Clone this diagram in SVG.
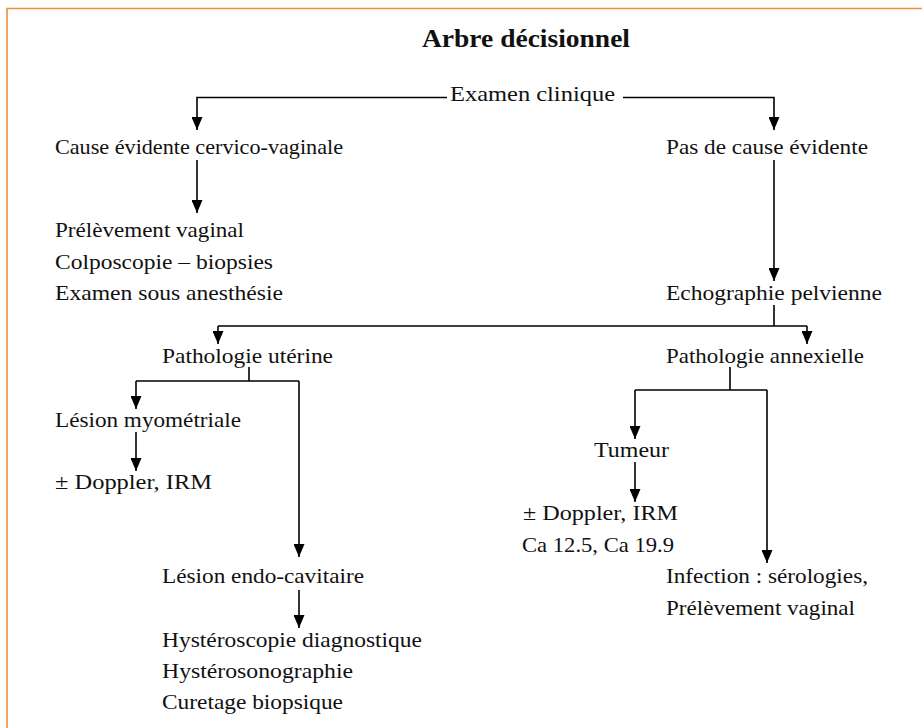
<svg xmlns="http://www.w3.org/2000/svg" width="922" height="728" viewBox="0 0 922 728">
<style>
text{font-family:"Liberation Serif","Times New Roman",serif;font-size:21.5px;fill:#111}
.title{font-size:25px;font-weight:bold}
.c path{fill:none;stroke:#000;stroke-width:1.6}
.c .a{marker-end:url(#arr)}
</style>
<defs>
<marker id="arr" markerUnits="userSpaceOnUse" markerWidth="13" markerHeight="11" viewBox="0 0 13 11" refX="13" refY="5.5" orient="auto">
<path d="M0,0 L13,5.5 L0,11 Z" fill="#000"/>
</marker>
</defs>
<rect x="0" y="0" width="922" height="728" fill="#fff"/>
<path d="M7,728 V8.5 H922" fill="none" stroke="#E9913A" stroke-width="1.6"/>
<g id="title"><text class="title" x="422" y="47" textLength="208" lengthAdjust="spacingAndGlyphs">Arbre décisionnel</text></g>
<g id="examen"><text x="450" y="101" textLength="165" lengthAdjust="spacingAndGlyphs">Examen clinique</text></g>
<g id="cause"><text x="55" y="154" textLength="288" lengthAdjust="spacingAndGlyphs">Cause évidente cervico-vaginale</text></g>
<g id="pascause"><text x="666" y="154" textLength="202" lengthAdjust="spacingAndGlyphs">Pas de cause évidente</text></g>
<g id="prelevement">
<text x="55" y="237" textLength="189" lengthAdjust="spacingAndGlyphs">Prélèvement vaginal</text>
<text x="55" y="269" textLength="218" lengthAdjust="spacingAndGlyphs">Colposcopie – biopsies</text>
<text x="55" y="300" textLength="228" lengthAdjust="spacingAndGlyphs">Examen sous anesthésie</text>
</g>
<g id="echo"><text x="666" y="300" textLength="216" lengthAdjust="spacingAndGlyphs">Echographie pelvienne</text></g>
<g id="uterine"><text x="162" y="363" textLength="171" lengthAdjust="spacingAndGlyphs">Pathologie utérine</text></g>
<g id="annexielle"><text x="666" y="363" textLength="198" lengthAdjust="spacingAndGlyphs">Pathologie annexielle</text></g>
<g id="myometriale"><text x="55" y="427" textLength="186" lengthAdjust="spacingAndGlyphs">Lésion myométriale</text></g>
<g id="doppler1"><text x="55" y="489" textLength="157" lengthAdjust="spacingAndGlyphs">± Doppler, IRM</text></g>
<g id="endocav"><text x="162" y="583" textLength="202" lengthAdjust="spacingAndGlyphs">Lésion endo-cavitaire</text></g>
<g id="hystero">
<text x="162" y="647" textLength="260" lengthAdjust="spacingAndGlyphs">Hystéroscopie diagnostique</text>
<text x="162" y="678" textLength="191" lengthAdjust="spacingAndGlyphs">Hystérosonographie</text>
<text x="162" y="709" textLength="181" lengthAdjust="spacingAndGlyphs">Curetage biopsique</text>
</g>
<g id="tumeur"><text x="594" y="457" textLength="75" lengthAdjust="spacingAndGlyphs">Tumeur</text></g>
<g id="doppler2">
<text x="523" y="520" textLength="155" lengthAdjust="spacingAndGlyphs">± Doppler, IRM</text>
<text x="522" y="552" textLength="152" lengthAdjust="spacingAndGlyphs">Ca 12.5, Ca 19.9</text>
</g>
<g id="infection">
<text x="666" y="583" textLength="202" lengthAdjust="spacingAndGlyphs">Infection : sérologies,</text>
<text x="666" y="615" textLength="189" lengthAdjust="spacingAndGlyphs">Prélèvement vaginal</text>
</g>
<g id="connectors" class="c">
<path class="a" d="M447,97.5 H197 V130"/>
<path class="a" d="M623,97.5 H774 V130"/>
<path class="a" d="M197,160 V213"/>
<path class="a" d="M774,160 V281"/>
<path d="M774,305 V326 M218,326 H807"/>
<path class="a" d="M218,326 V344"/>
<path class="a" d="M807,326 V344"/>
<path d="M249,367 V381 M136,381 H299"/>
<path class="a" d="M136,381 V409"/>
<path class="a" d="M299,381 V557"/>
<path class="a" d="M136,432 V471"/>
<path class="a" d="M299,590 V628"/>
<path d="M730,367 V390 M635,390 H767"/>
<path class="a" d="M635,390 V439"/>
<path class="a" d="M767,390 V563"/>
<path class="a" d="M635,462 V502"/>
</g>
</svg>
